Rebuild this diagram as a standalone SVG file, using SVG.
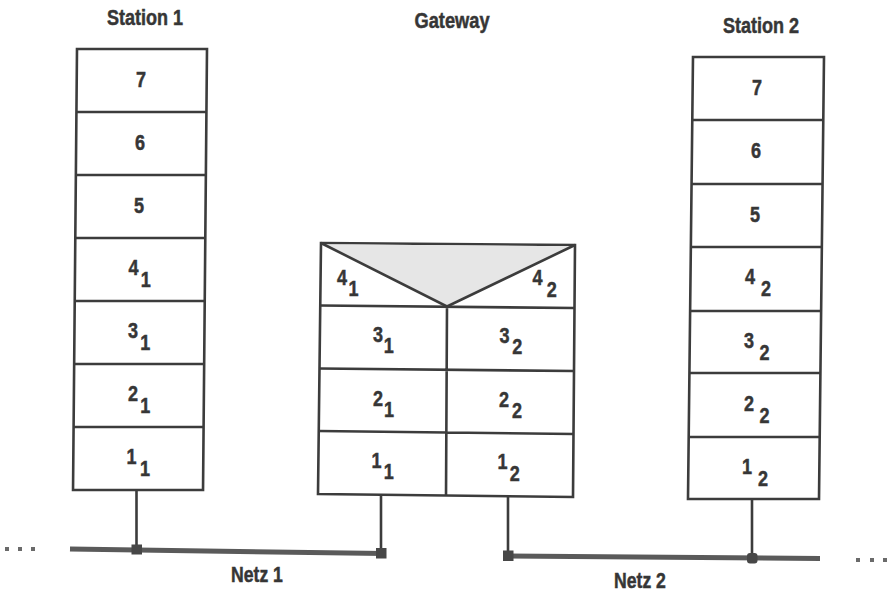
<svg xmlns="http://www.w3.org/2000/svg" width="892" height="592" viewBox="0 0 892 592">
  <style>
    .box { fill: #fff; stroke: #3c3c3c; stroke-width: 2.6; stroke-linejoin: miter; }
    .ln { stroke: #3c3c3c; stroke-width: 2.6; fill: none; }
    .bus { stroke: #5a5a5a; stroke-width: 5; fill: none; }
    .jn { fill: #474747; }
    .dot { fill: #6a6a6a; }
    text { font-family: "Liberation Sans", Arial, Helvetica, sans-serif; font-weight: bold; fill: #363636; stroke: #363636; stroke-width: 0.5; font-size: 22px; text-anchor: middle; }
    .lbl { font-size: 22px; }
  </style>

  <!-- Station 1: seven layers (narrow bold lettering via horizontal scale) -->
  <g id="station1">
    <text transform="translate(145,25) scale(0.82,1)">Station 1</text>
    <g transform="matrix(1,0,-0.009,1,0.44,0)">
      <rect class="box" x="77" y="49" width="130" height="441"/>
      <path class="ln" d="M77 112H207M77 175H207M77 238H207M77 301H207M77 364H207M77 427H207"/>
    </g>
    <text class="lbl" transform="translate(141,87) scale(0.82,1)">7</text>
    <text class="lbl" transform="translate(140,150) scale(0.82,1)">6</text>
    <text class="lbl" transform="translate(139,213) scale(0.82,1)">5</text>
    <text class="lbl" transform="translate(133.5,275) scale(0.82,1)"><tspan x="0">4</tspan><tspan x="15" dy="12">1</tspan></text>
    <text class="lbl" transform="translate(133,338) scale(0.82,1)"><tspan x="0">3</tspan><tspan x="15" dy="12">1</tspan></text>
    <text class="lbl" transform="translate(133,401) scale(0.82,1)"><tspan x="0">2</tspan><tspan x="15" dy="12">1</tspan></text>
    <text class="lbl" transform="translate(131.5,464) scale(0.82,1)"><tspan x="0">1</tspan><tspan x="16.5" dy="12">1</tspan></text>
  </g>

  <!-- Gateway: layers 1-3 split per network, layer 4 shared -->
  <g id="gateway">
    <text transform="translate(452,28) scale(0.83,1)">Gateway</text>
    <polygon class="box" points="321,243 575,245 573,497 318,494"/>
    <polygon points="322.5,244.3 573.5,246.2 447,305" fill="#e6e6e6" stroke="none"/>
    <path class="ln" d="M321 243L447 306.5L575 245"/>
    <path class="ln" d="M320.3 305.5L574.5 308M319.5 368.5L574 371M318.8 431L573.5 434M447 306.5L446 496"/>
    <text class="lbl" transform="translate(342,285) scale(0.82,1)"><tspan x="0">4</tspan><tspan x="14" dy="11">1</tspan></text>
    <text class="lbl" transform="translate(537.5,285) scale(0.82,1)"><tspan x="0">4</tspan><tspan x="17.5" dy="12">2</tspan></text>
    <text class="lbl" transform="translate(378,342) scale(0.82,1)"><tspan x="0">3</tspan><tspan x="13" dy="11">1</tspan></text>
    <text class="lbl" transform="translate(504.5,343) scale(0.82,1)"><tspan x="0">3</tspan><tspan x="15.5" dy="11">2</tspan></text>
    <text class="lbl" transform="translate(378,406) scale(0.82,1)"><tspan x="0">2</tspan><tspan x="13.5" dy="11">1</tspan></text>
    <text class="lbl" transform="translate(504,407) scale(0.82,1)"><tspan x="0">2</tspan><tspan x="16" dy="11">2</tspan></text>
    <text class="lbl" transform="translate(376.5,468) scale(0.82,1)"><tspan x="0">1</tspan><tspan x="15" dy="11">1</tspan></text>
    <text class="lbl" transform="translate(502.5,469) scale(0.82,1)"><tspan x="0">1</tspan><tspan x="15" dy="12">2</tspan></text>
  </g>

  <!-- Station 2: seven layers -->
  <g id="station2">
    <text transform="translate(761,33) scale(0.82,1)">Station 2</text>
    <g transform="matrix(1,0,-0.0113,1,0.64,0)">
      <rect class="box" x="693" y="57" width="131" height="442"/>
      <path class="ln" d="M693 120H824M693 184H824M693 247H824M693 311H824M693 373H824M693 437H824"/>
    </g>
    <text class="lbl" transform="translate(757,95) scale(0.82,1)">7</text>
    <text class="lbl" transform="translate(756,158) scale(0.82,1)">6</text>
    <text class="lbl" transform="translate(755,222) scale(0.82,1)">5</text>
    <text class="lbl" transform="translate(750,284) scale(0.82,1)"><tspan x="0">4</tspan><tspan x="19.5" dy="12">2</tspan></text>
    <text class="lbl" transform="translate(749,348) scale(0.82,1)"><tspan x="0">3</tspan><tspan x="19" dy="12">2</tspan></text>
    <text class="lbl" transform="translate(749,411) scale(0.82,1)"><tspan x="0">2</tspan><tspan x="19" dy="12">2</tspan></text>
    <text class="lbl" transform="translate(747,474) scale(0.82,1)"><tspan x="0">1</tspan><tspan x="19.5" dy="12">2</tspan></text>
  </g>

  <!-- Attachment stems and the two network buses -->
  <g id="connectors">
    <path class="ln" d="M136.5 490V549M381 494.5V553M508 497V556M752 499.5V558"/>
    <path class="bus" d="M70 549L384 553.5"/>
    <path class="bus" d="M506 556L820 558.5"/>
    <rect class="jn" x="131.5" y="544.5" width="10.5" height="10"/>
    <rect class="jn" x="376" y="548" width="10.5" height="10.5"/>
    <rect class="jn" x="503" y="550.5" width="10.5" height="10.5"/>
    <rect class="jn" x="747" y="553" width="10.5" height="10.5" rx="3"/>
  </g>

  <g id="net1">
    <rect class="dot" x="5" y="547" width="4" height="4"/>
    <rect class="dot" x="18" y="547" width="4" height="4"/>
    <rect class="dot" x="31" y="547" width="4" height="4"/>
    <text transform="translate(257,582) scale(0.8,1)">Netz 1</text>
  </g>
  <g id="net2">
    <rect class="dot" x="856" y="558" width="4" height="4"/>
    <rect class="dot" x="870" y="558" width="4" height="4"/>
    <rect class="dot" x="883" y="558" width="4" height="4"/>
    <text transform="translate(640,588) scale(0.8,1)">Netz 2</text>
  </g>
</svg>
